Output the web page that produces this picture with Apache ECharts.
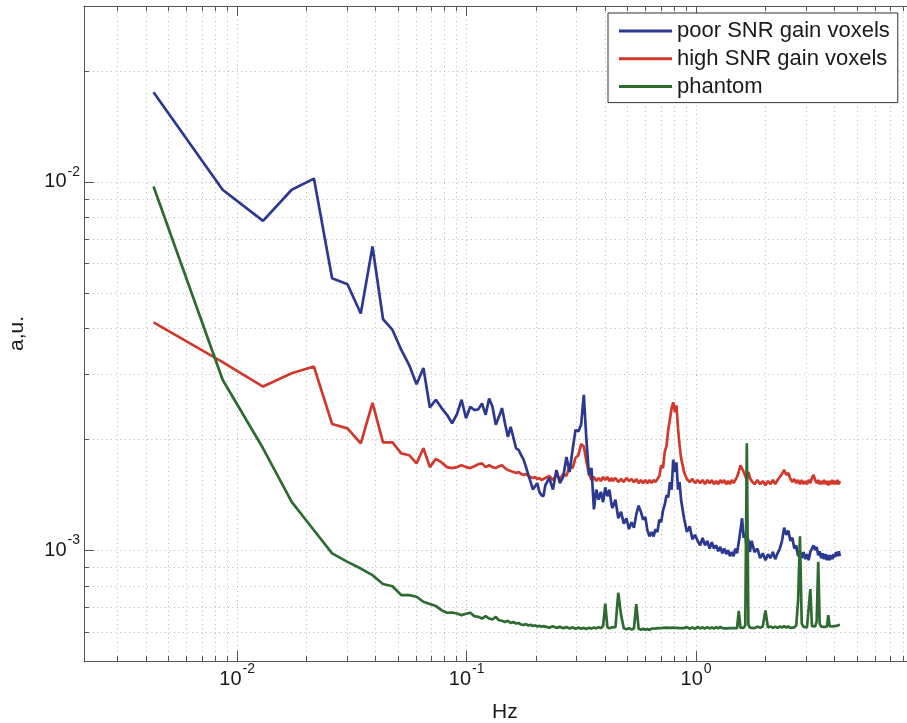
<!DOCTYPE html>
<html><head><meta charset="utf-8">
<script src="https://cdn.jsdelivr.net/npm/echarts@6/dist/echarts.min.js"></script>
<style>html,body{margin:0;padding:0;background:#fff}#c{width:907px;height:723px}</style>
</head><body><div id="c"></div>
<script>
// frequency samples (Hz)
const freqHz = [0.00432,0.00864,0.01296,0.01728,0.0216,0.02592,0.03024,0.03456,0.03888,0.0432,
0.04752,0.05184,0.05616,0.06048,0.0648,0.06912,0.07344,0.07776,0.08208,0.0864,
0.09072,0.09504,0.09936,0.10368,0.108,0.11232,0.11664,0.12096,0.12528,0.1296,
0.13392,0.13824,0.14256,0.14688,0.1512,0.15552,0.15984,0.16416,0.16848,0.1728,
0.17712,0.18144,0.18576,0.19008,0.1944,0.19872,0.20304,0.20736,0.21168,0.216,
0.2203,0.229,0.2376,0.2462,0.2549,0.2635,0.2722,0.2808,0.2894,0.2981,
0.3067,0.3154,0.324,0.3326,0.3413,0.3499,0.3586,0.3672,0.3758,0.3845,
0.3931,0.4018,0.4104,0.419,0.4277,
0.432,0.445,0.4579,0.4709,0.4838,0.4968,0.5098,0.5227,0.5357,0.5486,
0.5616,0.5746,0.5875,0.6005,0.6134,0.6264,0.6394,0.6523,0.6653,0.6782,
0.6912,0.7042,0.7171,0.7301,0.743,0.756,0.769,0.7819,0.7949,0.8078,
0.8208,0.8338,0.8467,0.8597,
0.8856,0.9115,0.9374,0.9634,0.9893,1.0152,1.0411,1.067,1.093,1.1189,
1.1448,1.1707,1.1966,1.2226,1.2485,1.2744,1.3003,1.3262,1.3522,1.3781,
1.404,1.4299,1.4558,1.4818,1.5077,1.5336,1.5595,1.5854,1.6114,1.6373,
1.6632,1.6891,1.715,
1.7453,1.7971,1.849,1.9008,1.9526,2.0045,2.0563,2.1082,2.16,2.2118,
2.2637,2.3155,2.3674,2.4192,2.471,2.5229,2.5747,2.6266,2.6784,2.7302,
2.7821,2.8339,2.8858,2.9376,2.9894,3.0413,3.0931,3.145,3.1968,3.2486,
3.3005,3.3523,3.4042,3.456,3.5078,3.5597,3.6115,3.6634,3.7152,3.767,
3.8189,3.8707,3.9226,3.9744,4.0262,4.0781,4.1299,4.1818,4.2336];

const poorSnrGain = [0.0175,0.00951,0.00783,0.00951,0.0102,0.00547,0.00527,0.00439,0.00667,0.00424,
0.00396,0.0035,0.00318,0.00282,0.00312,0.00244,0.00256,0.00243,0.00233,0.00221,
0.00234,0.00256,0.00228,0.00245,0.0024,0.00241,0.0025,0.00233,0.00258,0.00245,
0.00219,0.0023,0.00243,0.00221,0.00203,0.00216,0.00202,0.00189,0.00187,0.00181,
0.00176,0.00168,0.0016,0.00153,0.00146,0.00149,0.00152,0.00144,0.00141,0.0014,
0.0015,0.00157,0.00146,0.00165,0.00152,0.00158,0.00179,0.00163,0.00187,0.00212,
0.0021,0.00219,0.00264,0.00199,0.0016,0.00167,0.00129,0.00146,0.00137,0.00144,
0.00135,0.00148,0.0014,0.00146,0.00133,
0.0013,0.00137,0.00122,0.00127,0.00118,0.00122,0.00114,0.00119,0.00115,0.00125,
0.00132,0.00127,0.00121,0.00123,0.00113,0.00109,0.00112,0.00109,0.00114,0.00112,
0.00121,0.00119,0.00128,0.00133,0.00141,0.00139,0.00153,0.00146,0.00176,0.00163,
0.00173,0.00146,0.00153,0.00137,
0.00122,0.00112,0.00116,0.00107,0.0011,0.00106,0.00103,0.00108,0.00103,0.00106,
0.00101,0.00105,0.00101,0.00103,0.000993,0.00102,0.00098,0.00101,0.000975,0.001,
0.000963,0.000988,0.000963,0.00101,0.00098,0.00105,0.00113,0.00122,0.00108,0.00111,
0.001,0.00107,0.000988,
0.00106,0.000988,0.00101,0.000951,0.00098,0.000939,0.000975,0.000951,0.000988,0.000945,
0.00098,0.00101,0.00106,0.00115,0.0011,0.00113,0.00106,0.00108,0.00101,0.00103,
0.000963,0.000993,0.000951,0.000988,0.000945,0.000975,0.000939,0.000988,0.00101,0.00103,
0.001,0.00102,0.000969,0.000993,0.000951,0.00098,0.000945,0.000975,0.000939,0.000969,
0.000939,0.000969,0.000945,0.000975,0.000957,0.000988,0.000963,0.000993,0.000963];

const highSnrGain = [0.00415,0.00324,0.00278,0.00302,0.00315,0.0022,0.00214,0.00195,0.00251,0.00196,
0.00196,0.00183,0.00181,0.00172,0.00189,0.00168,0.00177,0.00173,0.00168,0.00167,
0.00168,0.0017,0.00168,0.00167,0.00169,0.00171,0.00172,0.00168,0.0017,0.00168,
0.00167,0.00169,0.0017,0.00167,0.00165,0.00164,0.00163,0.00162,0.00163,0.00161,
0.0016,0.00161,0.00159,0.00158,0.00157,0.00158,0.00156,0.00157,0.00155,0.00156,
0.00156,0.00159,0.00155,0.0016,0.00156,0.00161,0.00159,0.00169,0.00167,0.00178,
0.00181,0.00194,0.00191,0.00174,0.00161,0.00155,0.00158,0.00154,0.00157,0.00154,
0.00158,0.00155,0.00158,0.00154,0.00157,
0.00154,0.00157,0.00153,0.00156,0.00153,0.00157,0.00154,0.00156,0.00153,0.00156,
0.00152,0.00155,0.00152,0.00155,0.00152,0.00155,0.00152,0.00155,0.00153,0.00156,
0.00159,0.0017,0.00167,0.00185,0.00192,0.00212,0.00227,0.00243,0.00252,0.00237,
0.00247,0.00214,0.00193,0.00178,
0.00163,0.00156,0.00153,0.00156,0.00152,0.00155,0.00152,0.00155,0.00151,0.00155,
0.00152,0.00155,0.00151,0.00154,0.00151,0.00155,0.00152,0.00155,0.00151,0.00154,
0.00151,0.00155,0.00152,0.00155,0.00158,0.00163,0.0017,0.00172,0.00163,0.00159,
0.00155,0.00163,0.00157,
0.00154,0.00151,0.00155,0.00151,0.00154,0.0015,0.00154,0.00151,0.00155,0.00151,
0.00155,0.00158,0.00161,0.00165,0.0016,0.00162,0.00156,0.00153,0.00156,0.00152,
0.00155,0.00151,0.00155,0.00151,0.00154,0.00151,0.00155,0.00152,0.00157,0.0016,
0.00155,0.00152,0.00155,0.00151,0.00154,0.00151,0.00155,0.00151,0.00154,0.0015,
0.00154,0.00151,0.00155,0.00151,0.00154,0.00151,0.00155,0.00151,0.00154];

const phantom = [0.00971,0.0029,0.00189,0.001352,0.001132,0.00098,0.000929,0.000891,0.000855,0.000809,
0.000798,0.000755,0.000755,0.000747,0.000724,0.000714,0.000705,0.000687,0.000676,0.000677,
0.000673,0.000666,0.000672,0.000676,0.000662,0.000659,0.000652,0.000662,0.000652,0.000648,
0.000659,0.000645,0.000643,0.000638,0.000643,0.000634,0.000638,0.000632,0.000634,0.000628,
0.000626,0.00063,0.000624,0.000627,0.000622,0.000625,0.00062,0.000623,0.000619,0.000622,
0.00062,0.000616,0.000621,0.000615,0.000619,0.000614,0.000618,0.000613,0.000617,0.000612,
0.000616,0.000612,0.000615,0.000611,0.000616,0.000612,0.000617,0.000613,0.000618,0.000614,
0.000622,0.000716,0.000618,0.000613,0.000617,
0.000612,0.000618,0.000766,0.000666,0.000614,0.00061,0.000614,0.000609,0.000613,0.000713,
0.000612,0.000608,0.000612,0.000608,0.000611,0.000607,0.000612,0.000608,0.000613,0.000609,
0.000614,0.00061,0.000615,0.000611,0.000616,0.000611,0.000615,0.00061,0.000616,0.000611,
0.000615,0.00061,0.000614,0.000609,
0.000614,0.000618,0.000612,0.000617,0.000611,0.000619,0.000613,0.000617,0.000612,0.000618,
0.000613,0.000617,0.000612,0.000618,0.000613,0.000619,0.000614,0.000618,0.000613,0.000619,
0.000614,0.00062,0.000614,0.000619,0.000614,0.000684,0.000616,0.000621,0.000615,0.000625,
0.00195,0.000628,0.000616,
0.000619,0.000614,0.00062,0.000615,0.000621,0.000686,0.000616,0.000621,0.000615,0.00062,
0.000615,0.000621,0.000616,0.000622,0.000616,0.000621,0.000615,0.000621,0.000617,0.000625,
0.000729,0.00109,0.000632,0.000619,0.000624,0.000617,0.000623,0.000784,0.000622,0.000628,
0.000621,0.00064,0.000929,0.000631,0.00062,0.000626,0.000619,0.000625,0.00062,0.000666,
0.000622,0.000627,0.000621,0.000628,0.000622,0.000629,0.000624,0.000631,0.000627];

const seriesNames = ['poor SNR gain voxels', 'high SNR gain voxels', 'phantom'];
const seriesColors = ['#2b3990', '#d0392b', '#2e6b30'];
const xMinorTicks = [0.003,0.004,0.005,0.006,0.007,0.008,0.009,
  0.02,0.03,0.04,0.05,0.06,0.07,0.08,0.09,
  0.2,0.3,0.4,0.5,0.6,0.7,0.8,0.9,
  2,3,4,5,6,7,8,9];
const yMinorTicks = [0.0006,0.0007,0.0008,0.0009,
  0.002,0.003,0.004,0.005,0.006,0.007,0.008,0.009,0.02];
const X_MIN = 0.00215, X_MAX = 10, Y_MIN = 0.0005, Y_MAX = 0.03;

const FONT = '"Liberation Sans", Arial, Helvetica, sans-serif';
const AXIS_COLOR = '#555';
const GRID_COLOR = '#b8b8b8';
const TEXT_COLOR = '#1a1a1a';

function powLabel(v) {
  const l = Math.log10(v);
  const e = Math.round(l);
  if (Math.abs(l - e) > 1e-6) return '';
  return '{b|10}{s|' + e + '}';
}
const labelRich = {
  b: { fontSize: 20, lineHeight: 20, fontFamily: FONT, color: TEXT_COLOR },
  s: { fontSize: 14, lineHeight: 14, fontFamily: FONT, color: TEXT_COLOR, padding: [0, 0, 20, 1] }
};

function pairs(vals) { return freqHz.map((f, i) => [f, vals[i]]); }

function renderMinorX(params, api) {
  const v = api.value(0);
  const b = api.coord([v, Y_MIN]);
  const t = api.coord([v, Y_MAX]);
  const x = Math.round(b[0]) + 0.5;
  return { type: 'group', children: [
    { type: 'line', shape: { x1: x, y1: b[1], x2: x, y2: t[1] }, style: { stroke: GRID_COLOR, lineWidth: 1, lineDash: [1, 3.5] } },
    { type: 'line', shape: { x1: x, y1: b[1], x2: x, y2: b[1] - 5 }, style: { stroke: AXIS_COLOR, lineWidth: 1 } },
    { type: 'line', shape: { x1: x, y1: t[1], x2: x, y2: t[1] + 5 }, style: { stroke: AXIS_COLOR, lineWidth: 1 } }
  ]};
}
function renderMinorY(params, api) {
  const v = api.value(1);
  const l = api.coord([X_MIN, v]);
  const r = api.coord([X_MAX, v]);
  const y = Math.round(l[1]) + 0.5;
  return { type: 'group', children: [
    { type: 'line', shape: { x1: l[0], y1: y, x2: r[0], y2: y }, style: { stroke: GRID_COLOR, lineWidth: 1, lineDash: [1, 3.5] } },
    { type: 'line', shape: { x1: l[0], y1: y, x2: l[0] + 5, y2: y }, style: { stroke: AXIS_COLOR, lineWidth: 1 } }
  ]};
}

const logX = (extra) => Object.assign({
  type: 'log', logBase: 10, min: X_MIN, max: X_MAX, gridIndex: 0
}, extra);

const chart = echarts.init(document.getElementById('c'), null, { renderer: 'canvas' });
chart.setOption({
  animation: false,
  backgroundColor: '#fff',
  textStyle: { fontFamily: FONT },
  grid: { left: 84, top: 6, width: 841.6, height: 655, containLabel: false, outerBoundsMode: 'none' },
  xAxis: [
    logX({
      position: 'bottom',
      name: 'Hz', nameLocation: 'middle', nameGap: 41,
      nameTextStyle: { fontSize: 21, color: TEXT_COLOR, fontFamily: FONT },
      axisLine: { show: true, lineStyle: { color: AXIS_COLOR, width: 1 } },
      axisTick: { show: true, inside: true, length: 10, lineStyle: { color: AXIS_COLOR } },
      axisLabel: { show: true, margin: 8, formatter: powLabel, rich: labelRich, showMinLabel: true, showMaxLabel: true },
      splitLine: { show: true, lineStyle: { color: GRID_COLOR, type: [1, 3.5], width: 1 } },
      minorTick: { show: false }, minorSplitLine: { show: false }
    }),
    logX({
      position: 'top',
      axisLine: { show: true, lineStyle: { color: AXIS_COLOR, width: 1 } },
      axisTick: { show: true, inside: true, length: 10, lineStyle: { color: AXIS_COLOR } },
      axisLabel: { show: false },
      splitLine: { show: false }
    })
  ],
  yAxis: [{
    type: 'log', logBase: 10, min: Y_MIN, max: Y_MAX,
    name: 'a,u.', nameLocation: 'middle', nameGap: 56,
    nameTextStyle: { fontSize: 21, color: TEXT_COLOR, fontFamily: FONT },
    axisLine: { show: true, lineStyle: { color: AXIS_COLOR, width: 1 } },
    axisTick: { show: true, inside: true, length: 10, lineStyle: { color: AXIS_COLOR } },
    axisLabel: { show: true, margin: 4, formatter: powLabel, rich: labelRich },
    splitLine: { show: true, lineStyle: { color: GRID_COLOR, type: [1, 3.5], width: 1 } }
  }],
  legend: {
    data: seriesNames,
    orient: 'vertical', left: 608, top: 13,
    icon: 'rect', itemWidth: 53, itemHeight: 3, itemGap: 5.8,
    padding: [7, 8, 5, 11],
    backgroundColor: '#fff', borderColor: '#333', borderWidth: 1, borderRadius: 0,
    textStyle: { fontSize: 22, color: TEXT_COLOR, fontFamily: FONT },
    z: 10
  },
  series: [
    { type: 'custom', name: 'xminor', coordinateSystem: 'cartesian2d', xAxisIndex: 0, yAxisIndex: 0,
      silent: true, z: 1, clip: false, encode: { x: 0, y: 1 },
      data: xMinorTicks.map(v => [v, Y_MIN]), renderItem: renderMinorX },
    { type: 'custom', name: 'yminor', coordinateSystem: 'cartesian2d', xAxisIndex: 0, yAxisIndex: 0,
      silent: true, z: 1, clip: false, encode: { x: 0, y: 1 },
      data: yMinorTicks.map(v => [X_MIN, v]), renderItem: renderMinorY },
    { type: 'line', name: seriesNames[0], data: pairs(poorSnrGain), z: 3,
      showSymbol: false, symbol: 'none', color: seriesColors[0],
      lineStyle: { color: seriesColors[0], width: 2.7 } },
    { type: 'line', name: seriesNames[1], data: pairs(highSnrGain), z: 2,
      showSymbol: false, symbol: 'none', color: seriesColors[1],
      lineStyle: { color: seriesColors[1], width: 2.7 } },
    { type: 'line', name: seriesNames[2], data: pairs(phantom), z: 4,
      showSymbol: false, symbol: 'none', color: seriesColors[2],
      lineStyle: { color: seriesColors[2], width: 2.7 } }
  ]
});
</script>
</body></html>
